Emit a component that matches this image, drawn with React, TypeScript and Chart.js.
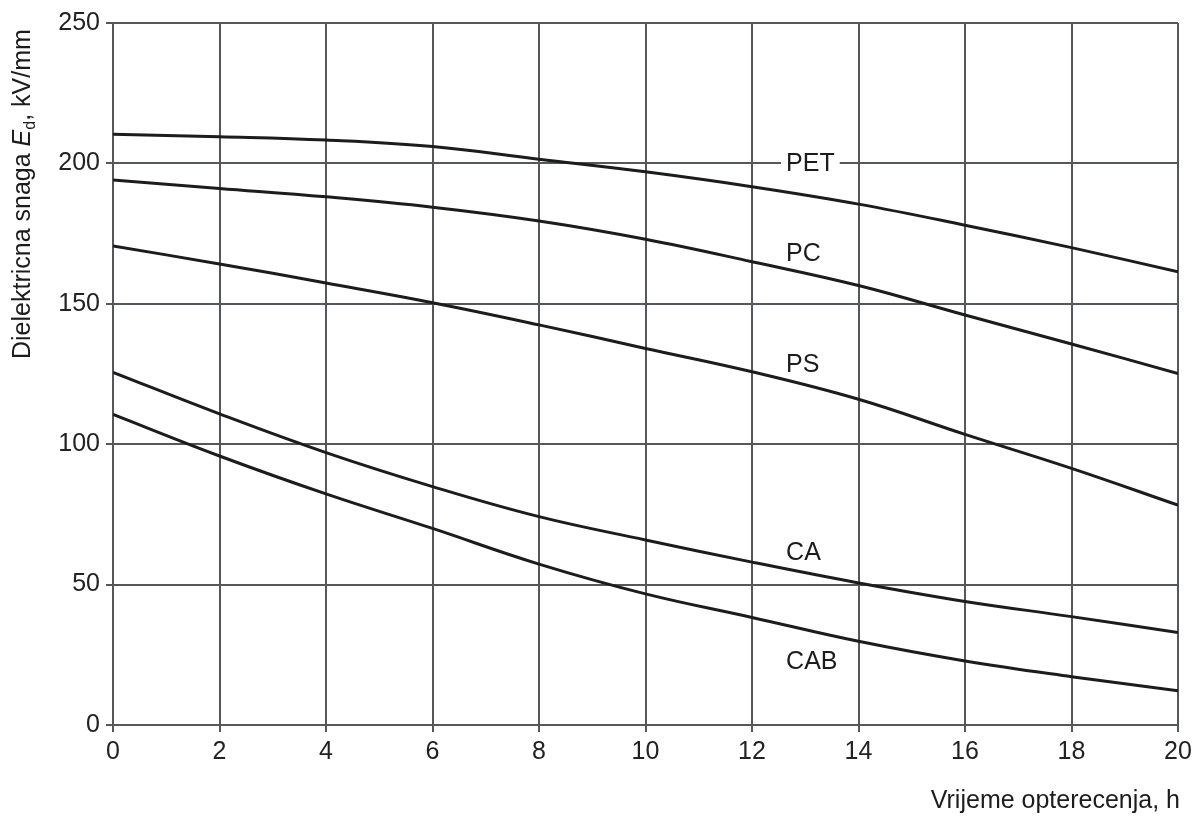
import React, { useEffect, useRef } from "react";
import { Chart, registerables } from "chart.js";

Chart.register(...registerables);

// Time under load (h)
const hours = [0, 2, 4, 6, 8, 10, 12, 14, 16, 18, 20];
// Dielectric strength Ed (kV/mm)
const PET = [210.4, 209.5, 208.3, 206, 201.5, 197, 191.7, 185.5, 178, 170, 161.4];
const PC = [194.1, 191.1, 188.1, 184.4, 179.5, 173, 165, 156.5, 146, 135.7, 125.2];
const PS = [170.6, 164.2, 157.4, 150.4, 142.5, 134.1, 125.8, 116, 103.5, 91.4, 78.3];
const CA = [125.6, 110.8, 97, 84.9, 74.2, 65.9, 58, 50.6, 44, 38.6, 32.9];
const CAB = [110.6, 95.8, 82.3, 70, 57.3, 46.7, 38.3, 29.8, 22.8, 17.2, 12.2];

const seriesNames = ["PET", "PC", "PS", "CA", "CAB"];
const seriesValues = [PET, PC, PS, CA, CAB];
// Curve labels anchored in data units (left edge x, vertical centre y)
const labelX = [12.64, 12.64, 12.64, 12.64, 12.64];
const labelY = [200, 168, 128.6, 61.6, 22.8];

const xTicks = { min: 0, max: 20, step: 2 };
const yTicks = { min: 0, max: 250, step: 50 };

const xTitle = "Vrijeme opterecenja, h";
const yTitleParts = ["Dielektricna snaga ", "E", "d", ", kV/mm"];

const FONT = "'Liberation Sans', Arial, sans-serif";
const GRID = "#54585d";
const INK = "#1c1c1c";

export default function App() {
  const ref = useRef<HTMLCanvasElement | null>(null);

  useEffect(() => {
    const canvas = ref.current;
    if (!canvas) return;

    const textPlugin = {
      id: "textPlugin",
      afterDatasetsDraw(chart: any) {
        const ctx = chart.ctx;
        const xs = chart.scales.x;
        const ys = chart.scales.y;
        ctx.save();
        ctx.font = `25px ${FONT}`;
        ctx.textBaseline = "middle";
        ctx.textAlign = "left";
        seriesNames.forEach((name, i) => {
          const px = xs.getPixelForValue(labelX[i]);
          const py = ys.getPixelForValue(labelY[i]);
          const w = ctx.measureText(name).width;
          if (labelY[i] % yTicks.step === 0) {
            ctx.fillStyle = "#ffffff";
            ctx.fillRect(px - 5, py - 12, w + 10, 24);
          }
          ctx.fillStyle = INK;
          ctx.fillText(name, px, py + 1);
        });
        ctx.restore();
      },
      afterDraw(chart: any) {
        const ctx = chart.ctx;
        const area = chart.chartArea;
        ctx.save();
        ctx.fillStyle = INK;
        ctx.font = `25px ${FONT}`;
        ctx.textAlign = "right";
        ctx.textBaseline = "alphabetic";
        ctx.fillText(xTitle, area.right + 2, 808);
        ctx.translate(30, 359);
        ctx.rotate(-Math.PI / 2);
        ctx.textAlign = "left";
        let x = 0;
        ctx.font = `25px ${FONT}`;
        ctx.fillText(yTitleParts[0], x, 0);
        x += ctx.measureText(yTitleParts[0]).width;
        ctx.font = `italic 25px ${FONT}`;
        ctx.fillText(yTitleParts[1], x, 0);
        x += ctx.measureText(yTitleParts[1]).width;
        ctx.font = `16px ${FONT}`;
        ctx.fillText(yTitleParts[2], x, 5);
        x += ctx.measureText(yTitleParts[2]).width;
        ctx.font = `25px ${FONT}`;
        ctx.fillText(yTitleParts[3], x, 0);
        ctx.restore();
      },
    };

    const chart = new Chart(canvas, {
      type: "line",
      data: {
        datasets: seriesNames.map((name, i) => ({
          label: name,
          data: hours.map((h, j) => ({ x: h, y: seriesValues[i][j] })),
          borderColor: INK,
          borderWidth: 3,
          pointRadius: 0,
          fill: false,
          tension: 0.4,
        })),
      },
      options: {
        responsive: false,
        animation: false,
        layout: { padding: { top: 23, right: 17, bottom: 0, left: 0 } },
        plugins: {
          legend: { display: false },
          tooltip: { enabled: false },
        },
        scales: {
          x: {
            type: "linear",
            min: xTicks.min,
            max: xTicks.max,
            afterFit: (s: any) => {
              s.height = 91;
              s.paddingLeft = 0;
              s.paddingRight = 0;
            },
            ticks: {
              stepSize: xTicks.step,
              color: "#222",
              font: { family: FONT, size: 25 },
              padding: 5,
              maxRotation: 0,
            },
            grid: { color: GRID, lineWidth: 2, tickLength: 7 },
            border: { color: GRID, width: 2 },
          },
          y: {
            type: "linear",
            min: yTicks.min,
            max: yTicks.max,
            afterFit: (s: any) => {
              s.width = 113;
              s.paddingTop = 0;
              s.paddingBottom = 0;
            },
            ticks: {
              stepSize: yTicks.step,
              color: "#222",
              font: { family: FONT, size: 25 },
              padding: 6,
            },
            grid: { color: GRID, lineWidth: 2, tickLength: 7 },
            border: { color: GRID, width: 2 },
          },
        },
      },
      plugins: [textPlugin],
    });

    return () => chart.destroy();
  }, []);

  return (
    <div
      style={{
        position: "fixed",
        left: 0,
        top: 0,
        width: 1195,
        height: 816,
        background: "#ffffff",
      }}
    >
      <canvas ref={ref} width={1195} height={816} style={{ width: 1195, height: 816 }} />
    </div>
  );
}
